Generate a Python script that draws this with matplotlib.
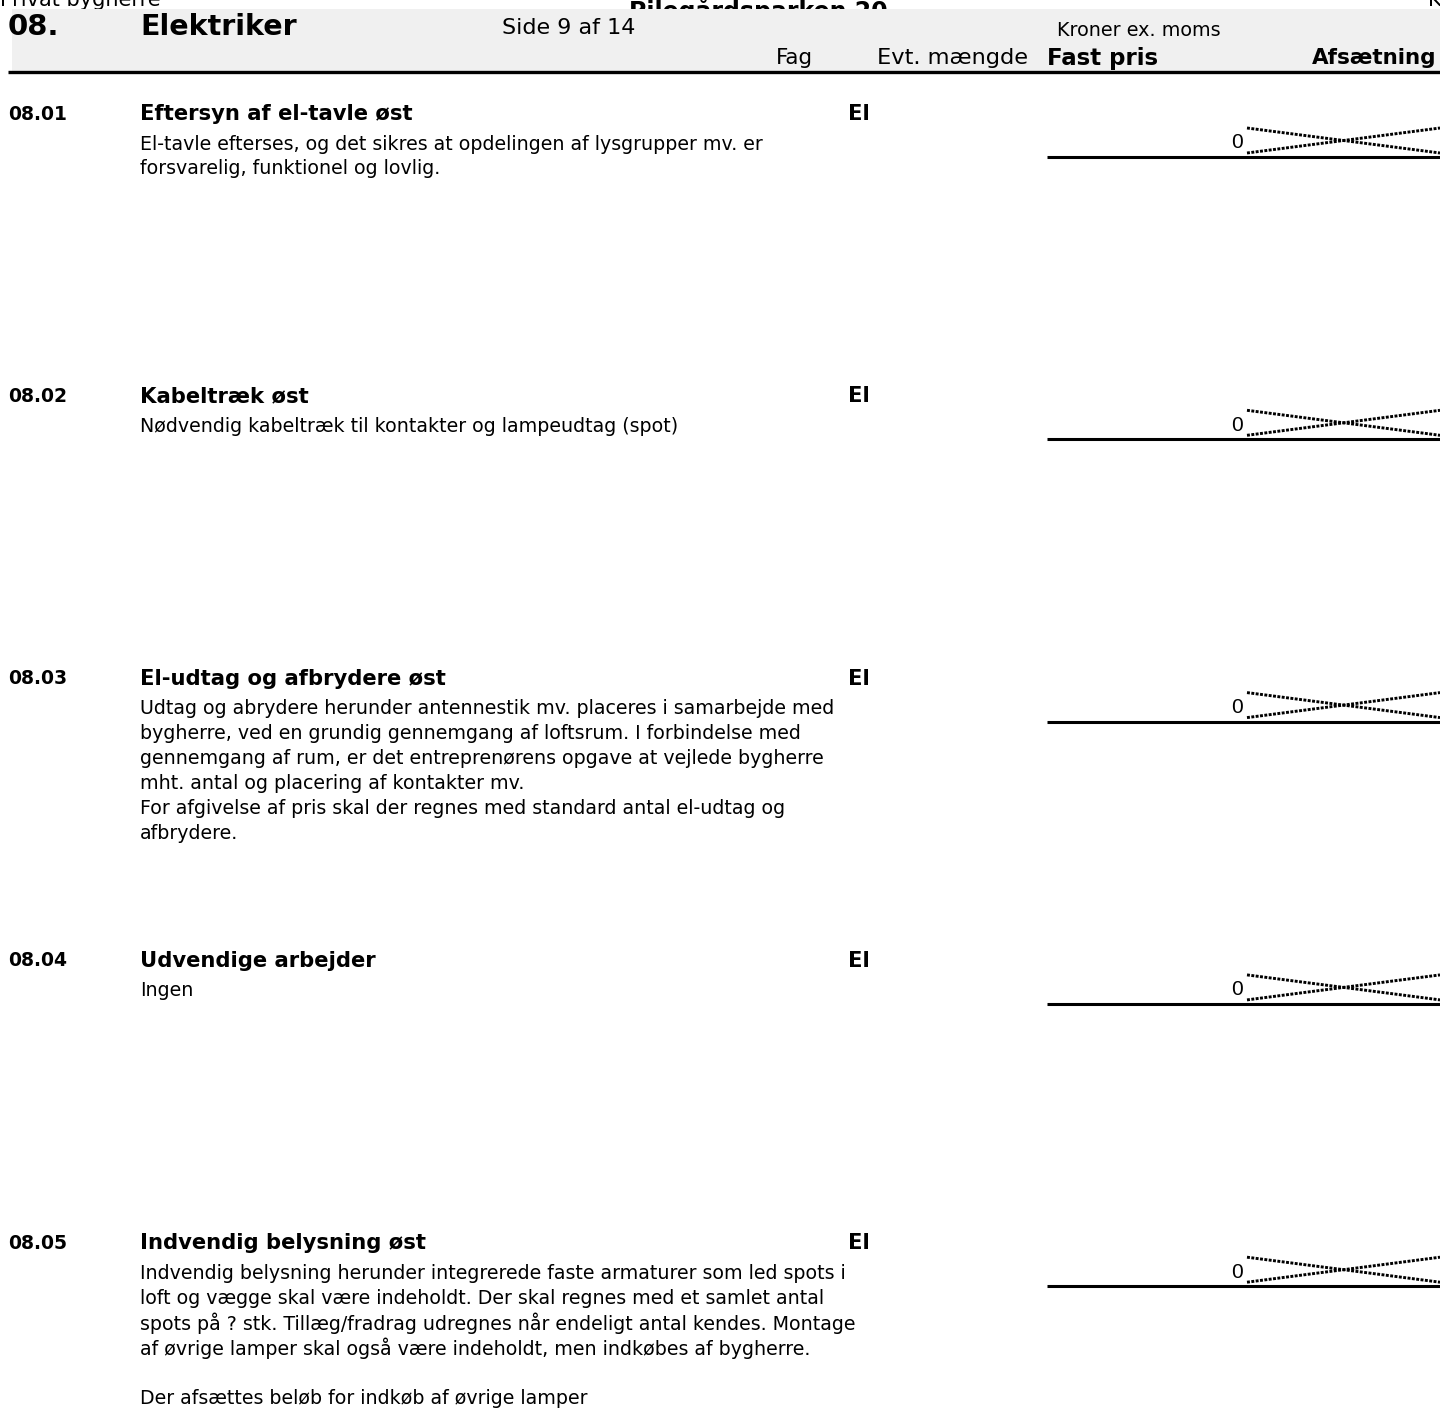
import matplotlib.pyplot as plt
from matplotlib.patches import Rectangle

W, H = 1440, 1410

# page content
item_numbers = ["08.01", "08.02", "08.03", "08.04", "08.05"]
item_titles = [
    "Eftersyn af el-tavle øst",
    "Kabeltræk øst",
    "El-udtag og afbrydere øst",
    "Udvendige arbejder",
    "Indvendig belysning øst",
]
item_fag = ["El", "El", "El", "El", "El"]
item_prices = [0, 0, 0, 0, 0]
item_bodies = [
    ["El-tavle efterses, og det sikres at opdelingen af lysgrupper mv. er",
     "forsvarelig, funktionel og lovlig."],
    ["Nødvendig kabeltræk til kontakter og lampeudtag (spot)"],
    ["Udtag og abrydere herunder antennestik mv. placeres i samarbejde med",
     "bygherre, ved en grundig gennemgang af loftsrum. I forbindelse med",
     "gennemgang af rum, er det entreprenørens opgave at vejlede bygherre",
     "mht. antal og placering af kontakter mv.",
     "For afgivelse af pris skal der regnes med standard antal el-udtag og",
     "afbrydere."],
    ["Ingen"],
    ["Indvendig belysning herunder integrerede faste armaturer som led spots i",
     "loft og vægge skal være indeholdt. Der skal regnes med et samlet antal",
     "spots på ? stk. Tillæg/fradrag udregnes når endeligt antal kendes. Montage",
     "af øvrige lamper skal også være indeholdt, men indkøbes af bygherre.",
     "",
     "Der afsættes beløb for indkøb af øvrige lamper"],
]

section_no = "08."
section_name = "Elektriker"
page_label = "Side 9 af 14"
col_headers = ["Fag", "Evt. mængde", "Fast pris", "Afsætning"]

plt.rcParams['font.family'] = ['DejaVu Sans']

fig = plt.figure(figsize=(W / 100, H / 100), dpi=100)
ax = fig.add_axes([0, 0, 1, 1])
ax.set_xlim(0, W)
ax.set_ylim(H, 0)
ax.axis("off")

body_fs = 13.7
title_fs = 15.2
num_fs = 13.5

# running header, partly hidden behind the band as in the source page
ax.text(0, 0, "Privat bygherre", fontsize=15, va="center", ha="left")
ax.text(758, 10, "Pilegårdsparken 20", fontsize=17, fontweight="bold", va="center", ha="center")
ax.text(1428, 0, "K", fontsize=15, va="center", ha="left")

# grey header band
ax.add_patch(Rectangle((12, 9), W - 12, 62, facecolor="#f0f0f0", edgecolor="none", zorder=3))
ax.plot([8, W], [72, 72], color="black", lw=2.4, zorder=4, solid_capstyle="butt")

ax.text(8, 27, section_no, fontsize=21, fontweight="bold", va="center", zorder=5)
ax.text(140, 27, section_name, fontsize=20.5, fontweight="bold", va="center", zorder=5)
ax.text(502, 28, page_label, fontsize=16, va="center", zorder=5)
ax.text(1057, 30, "Kroner ex. moms", fontsize=13.8, va="center", zorder=5)

ax.text(813, 58, col_headers[0], fontsize=15.5, va="center", ha="right", zorder=5)
ax.text(1028, 58, col_headers[1], fontsize=16.2, va="center", ha="right", zorder=5)
ax.text(1047, 58, col_headers[2], fontsize=16.5, fontweight="bold", va="center", ha="left", zorder=5)
ax.text(1436, 58, col_headers[3], fontsize=15.5, fontweight="bold", va="center", ha="right", zorder=5)

# items
row_top = 114
row_step = 282.3
line_h = 25

for i, (num, title, fag, price, body) in enumerate(
        zip(item_numbers, item_titles, item_fag, item_prices, item_bodies)):
    y = row_top + i * row_step
    ax.text(8, y, num, fontsize=num_fs, fontweight="bold", va="center")
    ax.text(140, y, title, fontsize=title_fs, fontweight="bold", va="center")
    ax.text(848, y, fag, fontsize=title_fs, fontweight="bold", va="center")

    for j, line in enumerate(body):
        ax.text(140, y + 30 + j * line_h, line, fontsize=body_fs, va="center")

    # price cell with crossed-out dotted lines
    ax.text(1243, y + 29, str(price), fontsize=15,
            family="Liberation Sans", va="center", ha="right")
    ax.plot([1047, W], [y + 43, y + 43], color="black", lw=2.2, solid_capstyle="butt")
    ax.plot([1247, W], [y + 14, y + 39], color="black", lw=2.1, ls=(0, (1, 0.5)))
    ax.plot([1247, W], [y + 39, y + 14], color="black", lw=2.1, ls=(0, (1, 0.5)))

fig.savefig("out.png", dpi=100)
